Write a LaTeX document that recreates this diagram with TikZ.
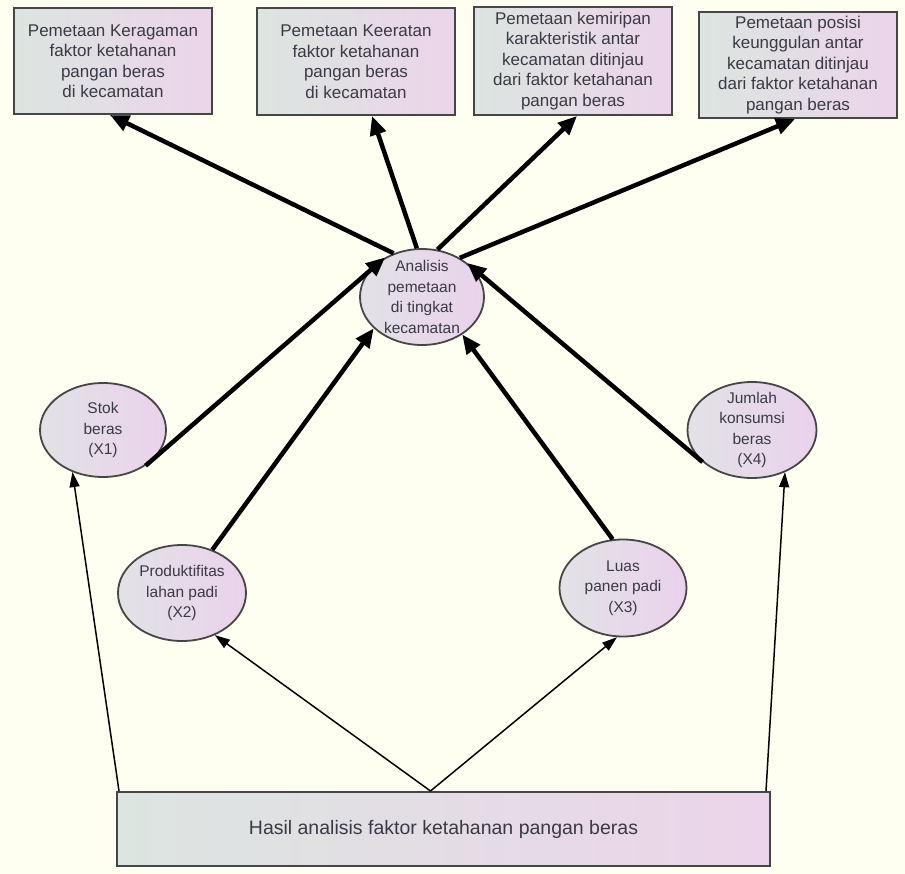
\documentclass[tikz,border=0pt]{standalone}
\usepackage{fontspec}
\setmainfont{Liberation Sans}
\usetikzlibrary{shapes.geometric,arrows.meta,calc}
\definecolor{bg}{RGB}{255,255,241}
\definecolor{fillL}{RGB}{220,229,224}
\definecolor{fillR}{RGB}{236,212,234}
\definecolor{elL}{RGB}{226,226,230}
\definecolor{elR}{RGB}{234,210,236}
\definecolor{txt}{RGB}{58,58,70}
\definecolor{edge}{RGB}{70,70,70}
\begin{document}
\begin{tikzpicture}[x=1pt,y=-1pt,
 topbox/.style={draw=edge,line width=2pt,left color=fillL,right color=fillR,minimum width=198pt,minimum height=106pt,inner sep=0pt,align=center,text=txt,font=\fontsize{17}{20.5}\selectfont},
 ell/.style={ellipse,draw=edge,line width=1.8pt,left color=elL,right color=elR,inner sep=0pt},
 elltext/.style={align=center,text=txt,font=\fontsize{15.5}{20.5}\selectfont,inner sep=0pt},
 bigarrow/.style={line width=4.5pt,black,-{Triangle[length=19pt,width=16pt]}},
 smallarrow/.style={line width=1.5pt,black,-{Triangle[length=15pt,width=10pt]}},
]
\fill[bg] (0,0) rectangle (905,874);
\useasboundingbox (0,0) rectangle (905,874);

% top boxes
\node[topbox] (b1) at (113,61) {Pemetaan Keragaman\\faktor ketahanan\\pangan beras\\di kecamatan};
\node[topbox,minimum height=107pt] (b2) at (356,61.5) {Pemetaan Keeratan\\faktor ketahanan\\pangan beras\\di kecamatan};
\node[topbox,minimum height=108pt] (b3) at (573,61) {Pemetaan kemiripan\\karakteristik antar\\kecamatan ditinjau\\dari faktor ketahanan\\pangan beras};
\node[topbox] (b4) at (798,65) {Pemetaan posisi\\keunggulan antar\\kecamatan ditinjau\\dari faktor ketahanan\\pangan beras};

% ellipses
\node[ell,minimum width=124pt,minimum height=96pt] (an) at (422,297) {};
\node[elltext] (ant) at (an.center) {Analisis\\pemetaan\\di tingkat\\kecamatan};
\node[ell,minimum width=126pt,minimum height=94pt] (stok) at (103,430) {};
\node[elltext] (stokt) at (stok.center) {Stok\\beras\\(X1)};
\node[ell,minimum width=128pt,minimum height=96pt] (prod) at (182,593) {};
\node[elltext] (prodt) at (prod.center) {Produktifitas\\lahan padi\\(X2)};
\node[ell,minimum width=127pt,minimum height=97pt] (luas) at (623,588) {};
\node[elltext] (luast) at (luas.center) {Luas\\panen padi\\(X3)};
\node[ell,minimum width=129pt,minimum height=96pt] (jum) at (752,430) {};
\node[elltext] (jumt) at (jum.center) {Jumlah\\konsumsi\\beras\\(X4)};

% bottom box
\node[draw=edge,line width=2pt,left color=fillL,right color=fillR,minimum width=653pt,minimum height=74pt,inner sep=0pt,text=txt,font=\fontsize{19.5}{22}\selectfont] (hb) at (443.5,829) {Hasil analisis faktor ketahanan pangan beras};

% thick arrows
\draw[bigarrow] (stok.-40) -- (an.133);
\draw[bigarrow] (prod.55) -- (an.213);
\draw[bigarrow] (luas.102) -- (an.-43);
\draw[bigarrow] (jum.213) -- (an.37);
\draw[bigarrow] (an.123) -- ([xshift=-3pt]b1.south);
\draw[bigarrow] (an.96) -- ([xshift=16pt]b2.south);
\draw[bigarrow] (an.72) -- ([xshift=4pt]b3.south);
\draw[bigarrow] (an.46) -- ([xshift=-3pt]b4.south);

% thin arrows
\draw[smallarrow] ([xshift=3pt]hb.north west) -- (stok.-126);
\draw[smallarrow] ([xshift=-13pt]hb.north) -- (prod.-52);
\draw[smallarrow] ([xshift=-13pt]hb.north) -- (luas.-97);
\draw[smallarrow] ([xshift=-5pt]hb.north east) -- (jum.-52);
\end{tikzpicture}
\end{document}
